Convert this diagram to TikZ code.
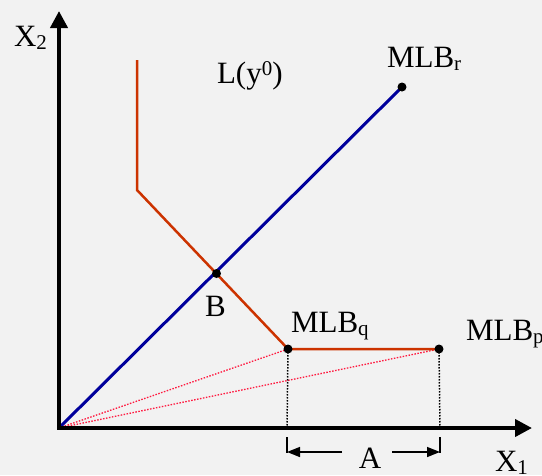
\documentclass[tikz,border=0pt]{standalone}
\usepackage{fontspec}
\setmainfont{Liberation Serif}
\usetikzlibrary{arrows.meta}
\definecolor{bg}{HTML}{F2F2F2}
\definecolor{rayblue}{HTML}{00009C}
\definecolor{isored}{HTML}{CC3300}
\definecolor{dotred}{HTML}{FF1A40}
\newcommand{\lsub}[1]{\raisebox{-3.5pt}{\fontsize{21}{21}\selectfont #1}}
\newcommand{\lsup}[1]{\raisebox{8pt}{\fontsize{21}{21}\selectfont #1}}
\tikzset{
  lbl/.style={inner sep=0pt, outer sep=0pt, anchor=base west, font=\fontsize{31}{37}\selectfont},
  axis/.style={line width=4pt, -{Triangle[width=17pt,length=17pt]}},
  dotpt/.style={circle, fill=black, inner sep=0pt, minimum size=9pt},
  ray/.style={rayblue, line width=3pt},
  iso/.style={isored, line width=2.5pt},
  cost/.style={dotred, line width=1.3pt, dash pattern=on 1.5pt off 1.5pt},
  drop/.style={black, line width=1.5pt, dash pattern=on 1.5pt off 1.5pt},
  dim/.style={black, line width=1.5pt},
  dimarrow/.style={black, line width=1.5pt, -{Triangle[width=10pt,length=13pt]}}
}
\begin{document}
\begin{tikzpicture}[x=1pt,y=-1pt]
\fill[bg] (0,0) rectangle (542,475);
\useasboundingbox (0,0) rectangle (542,475);
% key points
\coordinate (O) at (59,428);
\coordinate (ytip) at (59,11);
\coordinate (xtip) at (532,428);
\coordinate (isotop) at (137,60);
\coordinate (isocorner) at (137,190);
\coordinate (q) at (288,349);
\coordinate (p) at (439,349);
\coordinate (r) at (402,87);
\coordinate (b) at (216.5,273.5);
\coordinate (qfoot) at (287,428);
\coordinate (pfoot) at (440,428);
\coordinate (tqtop) at (287,437);
\coordinate (tqbot) at (287,453);
\coordinate (tptop) at (440,437);
\coordinate (tpbot) at (440,453);
\coordinate (aleft) at (342,452);
\coordinate (aright) at (392,452);
\coordinate (aqend) at (287,452);
\coordinate (apend) at (440,452);
% cost rays
\draw[cost] (O) -- (q);
\draw[cost] (O) -- (p);
% drops
\draw[drop] (q) -- (qfoot);
\draw[drop] (p) -- (pfoot);
% isoquant
\draw[iso, line join=miter] (isotop) -- (isocorner) -- (q) -- (p);
% ray
\draw[ray] (O) -- (r);
% axes
\draw[axis] (O) -- (ytip);
\draw[axis] ([xshift=-2pt]O) -- (xtip);
% dots
\node[dotpt] (dr) at (r) {};
\node[dotpt] (db) at (b) {};
\node[dotpt] (dq) at (q) {};
\node[dotpt] (dp) at (p) {};
% dimension A
\draw[dim] (tqtop) -- (tqbot);
\draw[dim] (tptop) -- (tpbot);
\draw[dimarrow] (aleft) -- (aqend);
\draw[dimarrow] (aright) -- (apend);
% labels
\node[lbl] (x2) at (14,46) {X\lsub{2}};
\node[lbl] (x1) at (495,471) {X\lsub{1}};
\node[lbl] (ly) at (217,83) {L(y\lsup{0})};
\node[lbl] (mlbr) at (387,67) {MLB\lsub{r}};
\node[lbl] (mlbq) at (291,332) {MLB\lsub{q}};
\node[lbl] (mlbp) at (466,340) {MLB\lsub{p}};
\node[lbl] (bl) at (205,316) {B};
\node[lbl, anchor=base] (al) at (370,468) {A};
\end{tikzpicture}
\end{document}
